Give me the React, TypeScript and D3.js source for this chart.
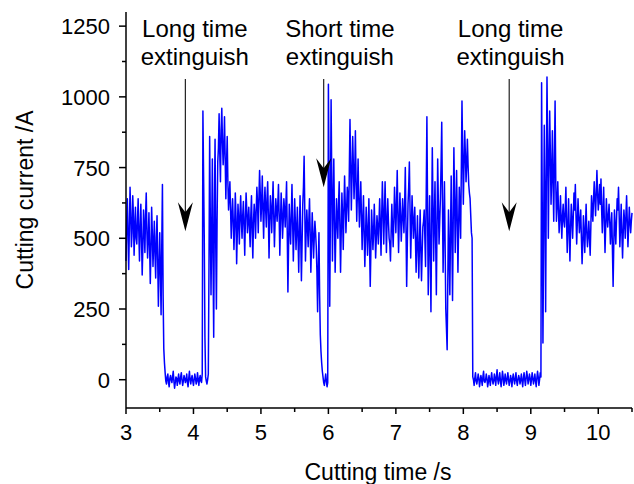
import React from "react";
import * as d3 from "d3";

// [time (s), cutting current (A)] (even hundredths)
const currentSamples: [number, number][] = [
  [3.00, 420], [3.02, 640], [3.04, 390], [3.06, 680], [3.08, 470], [3.10, 650], [3.12, 440], [3.14, 610], [3.16, 480], [3.18, 640],
  [3.20, 420], [3.22, 620], [3.24, 370], [3.26, 600], [3.28, 450], [3.30, 660], [3.32, 430], [3.34, 590], [3.36, 340], [3.38, 610],
  [3.40, 400], [3.42, 560], [3.44, 360], [3.46, 580], [3.48, 260], [3.50, 520], [3.52, 230], [3.54, 690], [3.56, 110],
  [3.58, 25], [3.60, -15], [3.62, 20], [3.64, -25], [3.66, 15], [3.68, -10], [3.70, 30], [3.72, -30], [3.74, 10], [3.76, -20],
  [3.78, 20], [3.80, -15], [3.82, 25], [3.84, -20], [3.86, 15], [3.88, -10], [3.90, 20], [3.92, -25], [3.94, 30], [3.96, -15],
  [3.98, 15], [4.00, -20], [4.02, 20], [4.04, -15], [4.06, 25], [4.08, -20], [4.10, 15], [4.12, -10],
  [4.14, 950], [4.16, 500], [4.18, 10], [4.20, -15], [4.22, 20], [4.24, 860], [4.26, 300], [4.28, 780], [4.30, 150], [4.32, 850],
  [4.34, 250], [4.36, 770], [4.38, 940], [4.40, 700], [4.42, 960], [4.44, 760], [4.46, 930], [4.48, 640], [4.50, 860], [4.52, 600],
  [4.54, 700], [4.56, 500], [4.58, 640], [4.60, 460], [4.62, 660], [4.64, 410], [4.66, 620], [4.68, 480], [4.70, 650], [4.72, 500],
  [4.74, 630], [4.76, 440], [4.78, 660], [4.80, 520], [4.82, 610], [4.84, 470], [4.86, 650], [4.88, 430], [4.90, 620], [4.92, 500],
  [4.94, 680], [4.96, 520], [4.98, 740], [5.00, 560], [5.02, 720], [5.04, 500], [5.06, 680], [5.08, 540], [5.10, 700], [5.12, 430],
  [5.14, 650], [5.16, 520], [5.18, 700], [5.20, 470], [5.22, 640], [5.24, 560], [5.26, 690], [5.28, 440], [5.30, 660], [5.32, 500],
  [5.34, 640], [5.36, 540], [5.38, 700], [5.40, 310], [5.42, 620], [5.44, 480], [5.46, 690], [5.48, 420], [5.50, 640], [5.52, 460],
  [5.54, 610], [5.56, 380], [5.58, 650], [5.60, 350], [5.62, 620], [5.64, 790], [5.66, 420], [5.68, 600], [5.70, 470], [5.72, 640],
  [5.74, 380], [5.76, 590], [5.78, 430], [5.80, 560], [5.82, 470], [5.84, 240], [5.86, 520], [5.88, 160], [5.90, 60], [5.92, 10],
  [5.94, -20], [5.96, 20], [5.98, -25], [6.00, 1045], [6.02, 260], [6.04, 990], [6.06, 420], [6.08, 780], [6.10, 380], [6.12, 640],
  [6.14, 500], [6.16, 700], [6.18, 380], [6.20, 660], [6.22, 460], [6.24, 720], [6.26, 520], [6.28, 680], [6.30, 560], [6.32, 920],
  [6.34, 600], [6.36, 860], [6.38, 640], [6.40, 880], [6.42, 560], [6.44, 780], [6.46, 540], [6.48, 700], [6.50, 460], [6.52, 650],
  [6.54, 400], [6.56, 610], [6.58, 440], [6.60, 640], [6.62, 330], [6.64, 600], [6.66, 460], [6.68, 620], [6.70, 430], [6.72, 580],
  [6.74, 480], [6.76, 640], [6.78, 440], [6.80, 700], [6.82, 480], [6.84, 700], [6.86, 450], [6.88, 640], [6.90, 500], [6.92, 420],
  [6.94, 620], [6.96, 470], [6.98, 680], [7.00, 520], [7.02, 740], [7.04, 450], [7.06, 660], [7.08, 490], [7.10, 640], [7.12, 520],
  [7.14, 750], [7.16, 330], [7.18, 620], [7.20, 770], [7.22, 430], [7.24, 650], [7.26, 500], [7.28, 610], [7.30, 380], [7.32, 580],
  [7.34, 360], [7.36, 600], [7.38, 350], [7.40, 540], [7.42, 600], [7.44, 400], [7.46, 930], [7.48, 300], [7.50, 650], [7.52, 240],
  [7.54, 820], [7.56, 420], [7.58, 700], [7.60, 300], [7.62, 780], [7.64, 480], [7.66, 640], [7.68, 910], [7.70, 380], [7.72, 700],
  [7.74, 250], [7.76, 106], [7.78, 600], [7.80, 300], [7.82, 720], [7.84, 280], [7.86, 820], [7.88, 450], [7.90, 740], [7.92, 380],
  [7.94, 680], [7.96, 500], [7.98, 985], [8.00, 620], [8.02, 880], [8.04, 700], [8.06, 850], [8.08, 690], [8.10, 640], [8.12, 520],
  [8.14, 10], [8.16, -20], [8.18, 25], [8.20, -15], [8.22, 20], [8.24, -25], [8.26, 15], [8.28, -20], [8.30, 30], [8.32, -10],
  [8.34, 20], [8.36, -25], [8.38, 15], [8.40, -20], [8.42, 25], [8.44, -15], [8.46, 20], [8.48, -20], [8.50, 35], [8.52, -15],
  [8.54, 25], [8.56, -25], [8.58, 30], [8.60, -20], [8.62, 20], [8.64, -15], [8.66, 25], [8.68, -20], [8.70, 15], [8.72, -25],
  [8.74, 20], [8.76, -15], [8.78, 25], [8.80, -20], [8.82, 15], [8.84, -15], [8.86, 20], [8.88, -25], [8.90, 25], [8.92, -20],
  [8.94, 30], [8.96, -15], [8.98, 20], [9.00, -20], [9.02, 25], [9.04, -15], [9.06, 20], [9.08, -25], [9.10, 30], [9.12, -20],
  [9.14, 25], [9.16, 1050], [9.18, 130], [9.20, 900], [9.22, 240], [9.24, 1070], [9.26, 500], [9.28, 950], [9.30, 620], [9.32, 880],
  [9.34, 560], [9.36, 985], [9.38, 560], [9.40, 700], [9.42, 520], [9.44, 650], [9.46, 500], [9.48, 620], [9.50, 540], [9.52, 680],
  [9.54, 450], [9.56, 640], [9.58, 420], [9.60, 620], [9.62, 500], [9.64, 660], [9.66, 690], [9.68, 480], [9.70, 640], [9.72, 520],
  [9.74, 600], [9.76, 410], [9.78, 580], [9.80, 450], [9.82, 620], [9.84, 470], [9.86, 560], [9.88, 440], [9.90, 650], [9.92, 560],
  [9.94, 700], [9.96, 580], [9.98, 740], [10.00, 600], [10.02, 690], [10.04, 710], [10.06, 520], [10.08, 680], [10.10, 450], [10.12, 640],
  [10.14, 540], [10.16, 620], [10.18, 480], [10.20, 590], [10.22, 330], [10.24, 600], [10.26, 480], [10.28, 640], [10.30, 680], [10.32, 470],
  [10.34, 620], [10.36, 430], [10.38, 600], [10.40, 500], [10.42, 650], [10.44, 470], [10.46, 610], [10.48, 520], [10.50, 590],
];

// [time (s), cutting current (A)] (odd hundredths)
const currentSamplesOdd: [number, number][] = [
  [3.01, 560], [3.03, 500], [3.05, 540], [3.07, 590], [3.09, 520], [3.11, 580], [3.13, 530], [3.15, 500], [3.17, 560], [3.19, 520],
  [3.21, 540], [3.23, 500], [3.25, 470], [3.27, 540], [3.29, 580], [3.31, 520], [3.33, 500], [3.35, 470], [3.37, 460], [3.39, 520],
  [3.41, 480], [3.43, 440], [3.45, 500], [3.47, 420], [3.49, 400], [3.51, 380], [3.53, 470], [3.55, 300], [3.57, 60],
  [3.59, -5], [3.61, 10], [3.63, -10], [3.65, 5], [3.67, 0], [3.69, 10], [3.71, -5], [3.73, -10], [3.75, 5], [3.77, 0],
  [3.79, -5], [3.81, 10], [3.83, 0], [3.85, -5], [3.87, 5], [3.89, 0], [3.91, -10], [3.93, 5], [3.95, 0], [3.97, 5],
  [3.99, -5], [4.01, 0], [4.03, 5], [4.05, -5], [4.07, 0], [4.09, 5], [4.11, -5], [4.13, 20],
  [4.15, 720], [4.17, 150], [4.19, -5], [4.21, 0], [4.23, 400], [4.25, 560], [4.27, 520], [4.29, 420], [4.31, 600], [4.33, 480],
  [4.35, 560], [4.37, 820], [4.39, 800], [4.41, 880], [4.43, 840], [4.45, 820], [4.47, 780], [4.49, 760], [4.51, 700], [4.53, 650],
  [4.55, 600], [4.57, 580], [4.59, 560], [4.61, 540], [4.63, 580], [4.65, 520], [4.67, 560], [4.69, 590], [4.71, 560], [4.73, 580],
  [4.75, 540], [4.77, 570], [4.79, 600], [4.81, 560], [4.83, 540], [4.85, 580], [4.87, 520], [4.89, 560], [4.91, 580], [4.93, 600],
  [4.95, 620], [4.97, 640], [4.99, 660], [5.01, 620], [5.03, 600], [5.05, 620], [5.07, 600], [5.09, 640], [5.11, 580], [5.13, 560],
  [5.15, 600], [5.17, 620], [5.19, 580], [5.21, 560], [5.23, 600], [5.25, 620], [5.27, 580], [5.29, 560], [5.31, 600], [5.33, 560],
  [5.35, 600], [5.37, 620], [5.39, 520], [5.41, 480], [5.43, 540], [5.45, 580], [5.47, 560], [5.49, 520], [5.51, 560], [5.53, 530],
  [5.55, 500], [5.57, 520], [5.59, 500], [5.61, 480], [5.63, 680], [5.65, 600], [5.67, 520], [5.69, 540], [5.71, 560], [5.73, 520],
  [5.75, 480], [5.77, 520], [5.79, 500], [5.81, 520], [5.83, 380], [5.85, 400], [5.87, 300], [5.89, 100], [5.91, 30], [5.93, -10],
  [5.95, 0], [5.97, -5], [5.99, -10], [6.01, 700], [6.03, 600], [6.05, 700], [6.07, 620], [6.09, 560], [6.11, 520], [6.13, 560],
  [6.15, 620], [6.17, 540], [6.19, 520], [6.21, 580], [6.23, 600], [6.25, 620], [6.27, 600], [6.29, 640], [6.31, 740], [6.33, 760],
  [6.35, 720], [6.37, 760], [6.39, 720], [6.41, 700], [6.43, 660], [6.45, 640], [6.47, 620], [6.49, 580], [6.51, 560], [6.53, 520],
  [6.55, 500], [6.57, 540], [6.59, 520], [6.61, 480], [6.63, 460], [6.65, 540], [6.67, 520], [6.69, 540], [6.71, 500], [6.73, 540],
  [6.75, 560], [6.77, 540], [6.79, 580], [6.81, 600], [6.83, 580], [6.85, 580], [6.87, 560], [6.89, 560], [6.91, 480], [6.93, 520],
  [6.95, 540], [6.97, 560], [6.99, 600], [7.01, 620], [7.03, 580], [7.05, 560], [7.07, 580], [7.09, 560], [7.11, 580], [7.13, 620],
  [7.15, 540], [7.17, 480], [7.19, 680], [7.21, 600], [7.23, 540], [7.25, 580], [7.27, 560], [7.29, 500], [7.31, 480], [7.33, 460],
  [7.35, 480], [7.37, 460], [7.39, 450], [7.41, 560], [7.43, 500], [7.45, 660], [7.47, 600], [7.49, 480], [7.51, 440], [7.53, 540],
  [7.55, 620], [7.57, 560], [7.59, 500], [7.61, 540], [7.63, 620], [7.65, 560], [7.67, 760], [7.69, 640], [7.71, 540], [7.73, 480],
  [7.75, 180], [7.77, 350], [7.79, 450], [7.81, 520], [7.83, 500], [7.85, 560], [7.87, 640], [7.89, 600], [7.91, 560], [7.93, 540],
  [7.95, 600], [7.97, 740], [7.99, 800], [8.01, 760], [8.03, 800], [8.05, 760], [8.07, 760], [8.09, 660], [8.11, 580], [8.13, 500],
  [8.15, 0], [8.17, 5], [8.19, -5], [8.21, 0], [8.23, 5], [8.25, -5], [8.27, 0], [8.29, 10], [8.31, -5], [8.33, 0],
  [8.35, 5], [8.37, -10], [8.39, 0], [8.41, 5], [8.43, 0], [8.45, -5], [8.47, 5], [8.49, 10], [8.51, 0], [8.53, 5],
  [8.55, -5], [8.57, 0], [8.59, 10], [8.61, -5], [8.63, 0], [8.65, 5], [8.67, 0], [8.69, -5], [8.71, 0], [8.73, 5],
  [8.75, 0], [8.77, 5], [8.79, -5], [8.81, 0], [8.83, 5], [8.85, 0], [8.87, -5], [8.89, 5], [8.91, 0], [8.93, 5],
  [8.95, 10], [8.97, 0], [8.99, 5], [9.01, 0], [9.03, 5], [9.05, 0], [9.07, -5], [9.09, 5], [9.11, 10], [9.13, 0],
  [9.15, 10], [9.17, 600], [9.19, 500], [9.21, 640], [9.23, 700], [9.25, 820], [9.27, 760], [9.29, 800], [9.31, 720], [9.33, 700],
  [9.35, 780], [9.37, 700], [9.39, 620], [9.41, 600], [9.43, 580], [9.45, 560], [9.47, 580], [9.49, 560], [9.51, 600], [9.53, 560],
  [9.55, 540], [9.57, 520], [9.59, 540], [9.61, 560], [9.63, 580], [9.65, 600], [9.67, 580], [9.69, 560], [9.71, 580], [9.73, 560],
  [9.75, 500], [9.77, 480], [9.79, 520], [9.81, 540], [9.83, 520], [9.85, 510], [9.87, 500], [9.89, 540], [9.91, 600], [9.93, 640],
  [9.95, 640], [9.97, 660], [9.99, 660], [10.01, 640], [10.03, 620], [10.05, 600], [10.07, 600], [10.09, 560], [10.11, 540], [10.13, 580],
  [10.15, 580], [10.17, 560], [10.19, 540], [10.21, 460], [10.23, 480], [10.25, 540], [10.27, 560], [10.29, 600], [10.31, 580], [10.33, 540],
  [10.35, 520], [10.37, 520], [10.39, 560], [10.41, 580], [10.43, 560], [10.45, 540], [10.47, 560], [10.49, 560],
];

const xMajorTicks = [3, 4, 5, 6, 7, 8, 9, 10];
const xMinorTicks = [3.5, 4.5, 5.5, 6.5, 7.5, 8.5, 9.5, 10.5];
const yMajorTicks = [0, 250, 500, 750, 1000, 1250];
const yMinorTicks = [125, 375, 625, 875, 1125];

const annotationLines = [
  ["Long time", "extinguish"],
  ["Short time", "extinguish"],
  ["Long time", "extinguish"],
];
const annotationTimes = [3.88, 5.93, 8.68];
const annotationTextTimes = [4.02, 6.17, 8.7];
const arrowTipValues = [525, 680, 525];

const xTitle = "Cutting time /s";
const yTitle = "Cutting current /A";

export default function App() {
  const W = 634;
  const H = 484;
  const x = d3.scaleLinear().domain([3, 10.5]).range([126, 632]);
  const y = d3.scaleLinear().domain([-100, 1300]).range([408, 12]);
  const series = [...currentSamples, ...currentSamplesOdd].sort((a, b) => a[0] - b[0]);
  const line = d3
    .line<[number, number]>()
    .x((d) => x(d[0]))
    .y((d) => y(d[1]));
  const font = "'Liberation Sans', Arial, Helvetica, sans-serif";
  const x0 = x.range()[0];
  const yBottom = y.range()[0];

  return (
    <svg
      width={W}
      height={H}
      style={{ position: "absolute", left: 0, top: 0, background: "#fff" }}
      fontFamily={font}
    >
      <rect width={W} height={H} fill="#fff" />
      <path d={line(series) || ""} fill="none" stroke="#0000ff" strokeWidth={1.5} strokeLinejoin="round" />

      {/* axes */}
      <line x1={x0} x2={x0} y1={y.range()[1]} y2={yBottom} stroke="#000" strokeWidth={1.5} />
      <line x1={x0} x2={x.range()[1]} y1={yBottom} y2={yBottom} stroke="#000" strokeWidth={1.5} />

      {yMajorTicks.map((t) => (
        <g key={"ym" + t}>
          <line x1={x0 - 7} x2={x0} y1={y(t)} y2={y(t)} stroke="#000" strokeWidth={1.5} />
          <text x={110} y={y(t) + 8} fontSize={22} textAnchor="end" fill="#000">
            {t}
          </text>
        </g>
      ))}
      {yMinorTicks.map((t) => (
        <line key={"yn" + t} x1={x0 - 4} x2={x0} y1={y(t)} y2={y(t)} stroke="#000" strokeWidth={1.5} />
      ))}
      {xMajorTicks.map((t) => (
        <g key={"xm" + t}>
          <line x1={x(t)} x2={x(t)} y1={yBottom} y2={yBottom + 6} stroke="#000" strokeWidth={1.5} />
          <text x={x(t)} y={440} fontSize={22} textAnchor="middle" fill="#000">
            {t}
          </text>
        </g>
      ))}
      {xMinorTicks.map((t) => (
        <line key={"xn" + t} x1={x(t)} x2={x(t)} y1={yBottom} y2={yBottom + 4} stroke="#000" strokeWidth={1.5} />
      ))}

      <text x={378} y={480} fontSize={23} textAnchor="middle" fill="#000">
        {xTitle}
      </text>
      <text
        transform={`translate(33,200) rotate(-90)`}
        fontSize={23}
        textAnchor="middle"
        fill="#000"
      >
        {yTitle}
      </text>

      {annotationLines.map((lines, i) => {
        const ax = x(annotationTimes[i]);
        const tx = x(annotationTextTimes[i]);
        const tipY = y(arrowTipValues[i]);
        return (
          <g key={"an" + i}>
            <text x={tx} y={37} fontSize={24} textAnchor="middle" fill="#000">
              {lines[0]}
            </text>
            <text x={tx} y={65} fontSize={24} textAnchor="middle" fill="#000">
              {lines[1]}
            </text>
            <line x1={ax} x2={ax} y1={79} y2={tipY - 18} stroke="#222" strokeWidth={1.2} />
            <path
              d={`M${ax},${tipY} L${ax - 7.5},${tipY - 29} L${ax},${tipY - 19} L${ax + 7.5},${tipY - 29} Z`}
              fill="#000"
            />
          </g>
        );
      })}
    </svg>
  );
}
